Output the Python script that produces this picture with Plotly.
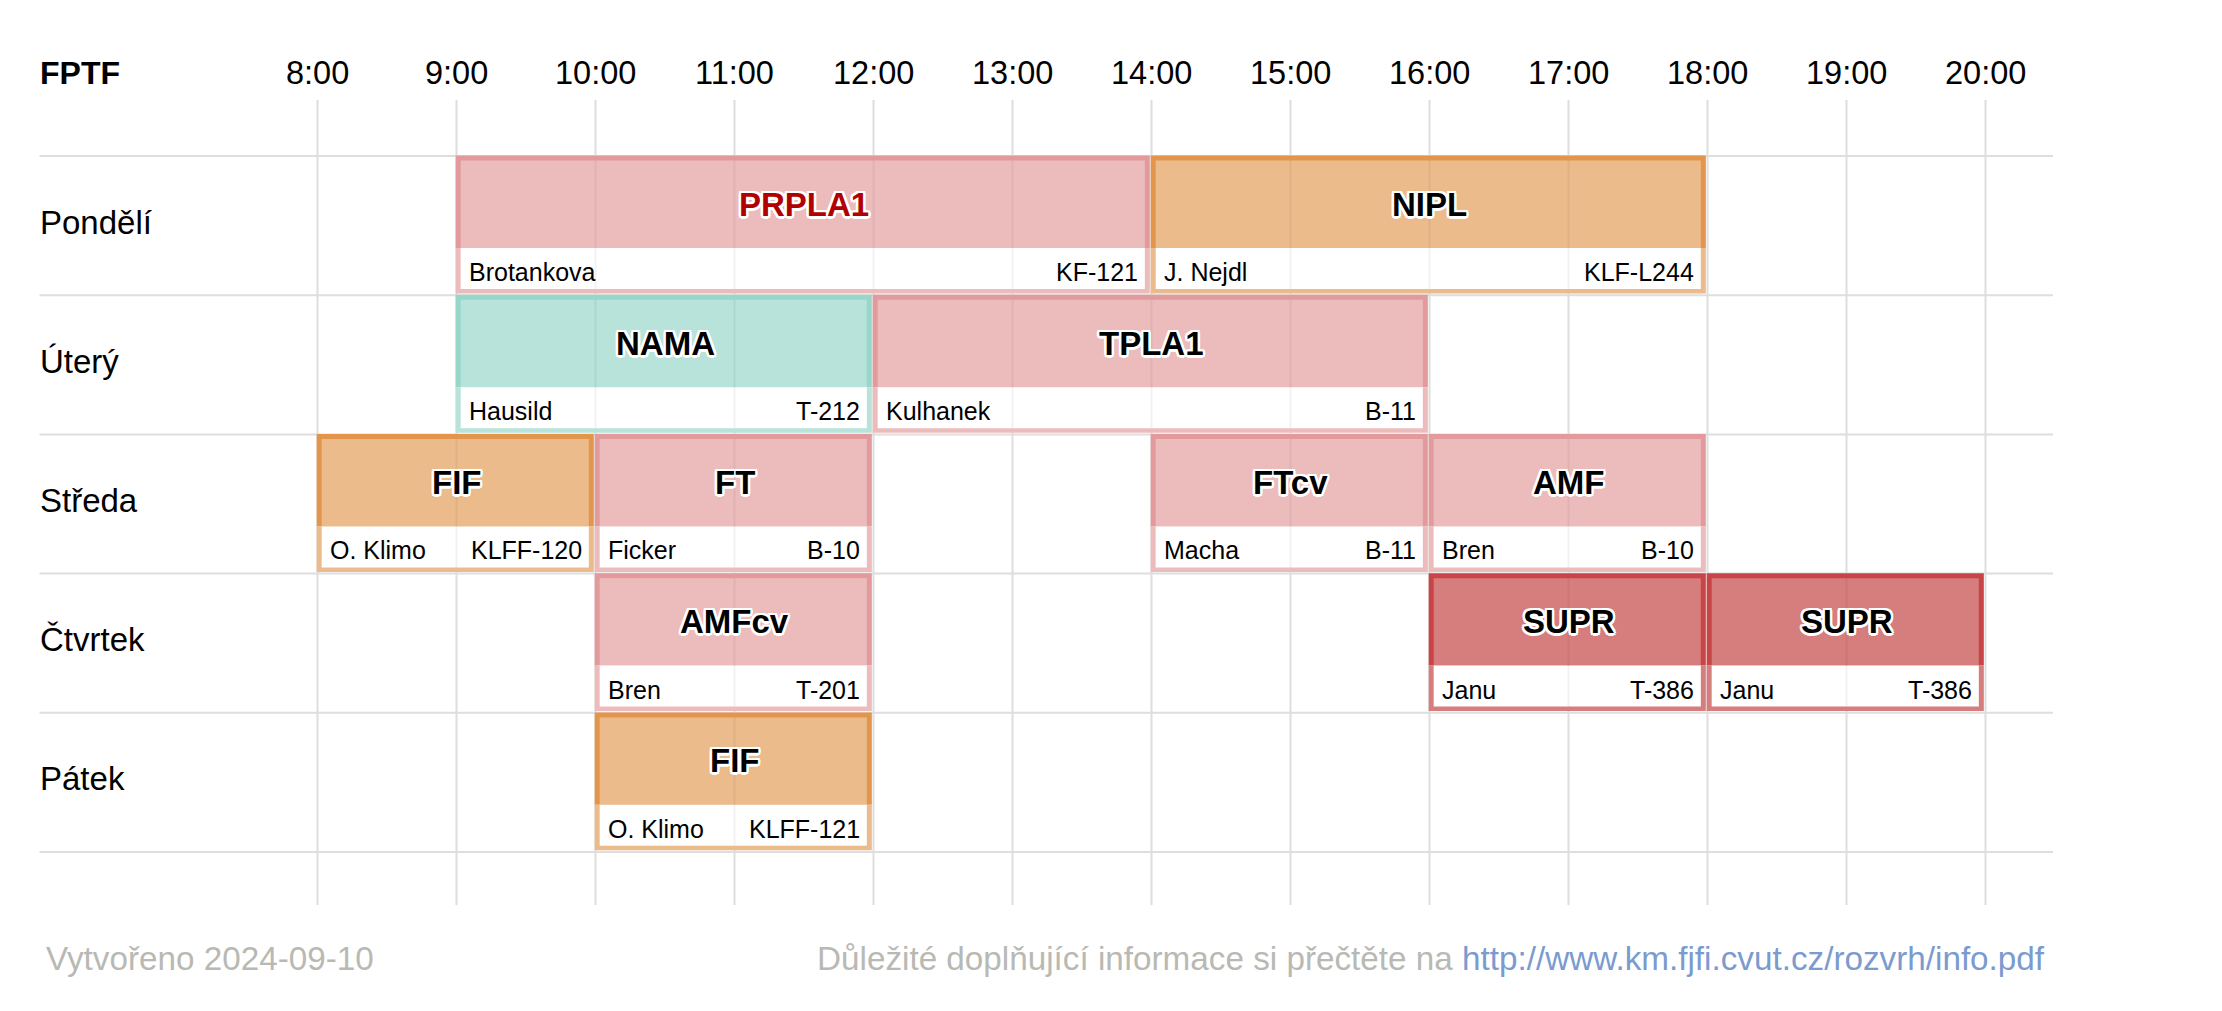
import plotly.graph_objects as go

# ---------------- data ----------------
days = ["Pondělí", "Úterý", "Středa", "Čtvrtek", "Pátek"]
hours = list(range(8, 21))
hour_labels = [f"{h}:00" for h in hours]

course_day = [0, 0, 1, 1, 2, 2, 2, 2, 3, 3, 3, 4]
course_start = [9, 14, 9, 12, 8, 10, 14, 16, 10, 16, 18, 10]
course_end = [14, 18, 12, 16, 10, 12, 16, 18, 12, 18, 20, 12]
course_title = ["PRPLA1", "NIPL", "NAMA", "TPLA1", "FIF", "FT", "FTcv", "AMF",
                "AMFcv", "SUPR", "SUPR", "FIF"]
course_teacher = ["Brotankova", "J. Nejdl", "Hausild", "Kulhanek", "O. Klimo", "Ficker",
                  "Macha", "Bren", "Bren", "Janu", "Janu", "O. Klimo"]
course_room = ["KF-121", "KLF-L244", "T-212", "B-11", "KLFF-120", "B-10", "B-11", "B-10",
               "T-201", "T-386", "T-386", "KLFF-121"]
course_kind = ["pink", "orange", "teal", "pink", "orange", "pink", "pink", "pink",
               "pink", "red", "red", "orange"]
title_highlight = [True, False, False, False, False, False, False, False,
                   False, False, False, False]

header_label = "FPTF"
footer_left = "Vytvořeno 2024-09-10"
footer_right_text = "Důležité doplňující informace si přečtěte na "
footer_link = "http://www.km.fjfi.cvut.cz/rozvrh/info.pdf"

# ---------------- styles ----------------
OFF = 8                 # default page body margin
W, H = 2222 - OFF, 1011 - OFF
PX_PER_HOUR = 139.0
X8 = 317.5 - OFF        # pixel of 8:00 within figure
ROW_PX = 139.2
ROW0 = 156.0 - OFF      # pixel of first row top within figure

kind_style = {
    "pink":   dict(fill="#ecbcbd", border="#e29a9c"),
    "orange": dict(fill="#ebbb8c", border="#e3954b"),
    "teal":   dict(fill="#b7e3da", border="#97d6ca"),
    "red":    dict(fill="#d67d7d", border="#c84446"),
}
FONT = "Arial, 'Liberation Sans', sans-serif"
GRID = "#dedede"

x_range = [8 - X8 / PX_PER_HOUR, 8 + (W - X8) / PX_PER_HOUR]
y_range = [(H - ROW0) / ROW_PX, -ROW0 / ROW_PX]

def ypx(p):  # page pixel -> row units
    return (p - OFF - ROW0) / ROW_PX

def xpx(p):  # page pixel -> hours
    return 8 + (p - OFF - X8) / PX_PER_HOUR

bx = 5 / PX_PER_HOUR
by = 5 / ROW_PX
head_h = 92 / ROW_PX
white_b = 133 / ROW_PX
blk_b = 137.5 / ROW_PX
x_left = xpx(39.5)
x_right = xpx(2053)

shadow = ", ".join(f"{dx}px {dy}px 0 white" for dx, dy in
                   [(-2, -2), (2, -2), (-2, 2), (2, 2), (0, 2.5), (0, -2.5), (2.5, 0), (-2.5, 0)])

shapes = []
annotations = []

for h in hours:
    shapes.append(dict(type="line", xref="x", yref="y", x0=h, x1=h,
                       y0=ypx(100), y1=ypx(905),
                       line=dict(color=GRID, width=2), layer="below"))
for r in range(len(days) + 1):
    shapes.append(dict(type="line", xref="x", yref="y", x0=x_left, x1=x_right,
                       y0=r, y1=r, line=dict(color=GRID, width=2), layer="below"))

for d, s, e, t, te, ro, k, hl in zip(course_day, course_start, course_end, course_title,
                                     course_teacher, course_room, course_kind, title_highlight):
    st = kind_style[k]
    x0, x1 = s - 0.006, e - 0.012
    y0 = d - 0.003
    shapes.append(dict(type="rect", x0=x0, x1=x1, y0=y0, y1=d + head_h,
                       fillcolor=st["border"], line=dict(width=0)))
    shapes.append(dict(type="rect", x0=x0, x1=x1, y0=d + head_h, y1=d + blk_b,
                       fillcolor=st["fill"], line=dict(width=0)))
    shapes.append(dict(type="rect", x0=x0 + bx, x1=x1 - bx, y0=y0 + by, y1=d + head_h,
                       fillcolor=st["fill"], line=dict(width=0)))
    shapes.append(dict(type="rect", x0=x0 + bx, x1=x1 - bx, y0=d + head_h, y1=d + white_b,
                       fillcolor="white", line=dict(width=0)))
    for h in hours:
        if s < h < e:
            shapes.append(dict(type="line", x0=h, x1=h, y0=y0 + by, y1=d + white_b,
                               line=dict(color="rgba(0,0,0,0.05)", width=2)))
    annotations.append(dict(x=(s + e) / 2, y=d + 48 / ROW_PX, text=f"<b>{t}</b>",
                            showarrow=False, xanchor="center", yanchor="middle",
                            font=dict(family=FONT, size=33,
                                      color="#b00000" if hl else "black", shadow=shadow)))
    annotations.append(dict(x=s + 10 / PX_PER_HOUR, y=d + 116 / ROW_PX, text=te,
                            showarrow=False, xanchor="left", yanchor="middle",
                            font=dict(family=FONT, size=25, color="black")))
    annotations.append(dict(x=e - 12 / PX_PER_HOUR, y=d + 116 / ROW_PX, text=ro,
                            showarrow=False, xanchor="right", yanchor="middle",
                            font=dict(family=FONT, size=25, color="black")))

for h, lab in zip(hours, hour_labels):
    annotations.append(dict(x=h, y=ypx(73), text=lab, showarrow=False,
                            xanchor="center", yanchor="middle",
                            font=dict(family=FONT, size=32.5, color="black")))
annotations.append(dict(x=x_left - 2 / PX_PER_HOUR, y=ypx(73), text=f"<b>{header_label}</b>",
                        showarrow=False, xanchor="left", yanchor="middle",
                        font=dict(family=FONT, size=32, color="black")))
for i, dname in enumerate(days):
    annotations.append(dict(x=x_left - 2 / PX_PER_HOUR, y=i + 0.475, text=dname, showarrow=False,
                            xanchor="left", yanchor="middle",
                            font=dict(family=FONT, size=33, color="black")))

annotations.append(dict(x=xpx(44), y=ypx(958),
                        text=footer_left, showarrow=False, xanchor="left", yanchor="middle",
                        font=dict(family=FONT, size=33.25, color="#b9b9b3")))
annotations.append(dict(x=xpx(2047), y=ypx(958),
                        text=footer_right_text + f"<span style='color:#7b9bcf'>{footer_link}</span>",
                        showarrow=False, xanchor="right", yanchor="middle",
                        font=dict(family=FONT, size=33.25, color="#b9b9b3")))

fig = go.Figure()
fig.add_trace(go.Scatter(x=[x_range[0]], y=[y_range[0]], mode="markers",
                         marker=dict(opacity=0), hoverinfo="skip", showlegend=False))
fig.update_layout(
    width=W, height=H,
    margin=dict(l=0, r=0, t=0, b=0),
    paper_bgcolor="white", plot_bgcolor="white",
    xaxis=dict(range=x_range, visible=False, showgrid=False, zeroline=False, fixedrange=True),
    yaxis=dict(range=y_range, visible=False, showgrid=False, zeroline=False, fixedrange=True),
    shapes=shapes, annotations=annotations, showlegend=False,
)
fig.write_html("out.html")
